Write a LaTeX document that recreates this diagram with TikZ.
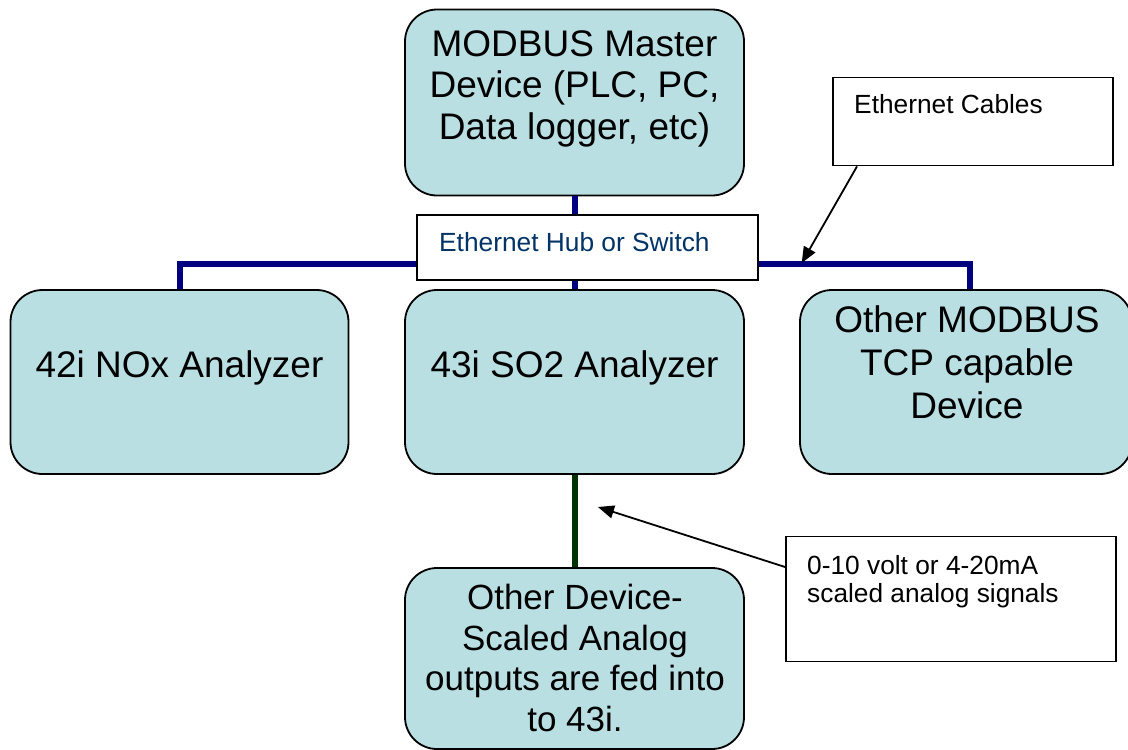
\documentclass[tikz,border=0pt]{standalone}
\usepackage{fontspec}
\setmainfont{Liberation Sans}
\usetikzlibrary{arrows.meta}

\definecolor{boxfill}{RGB}{185,223,227}
\definecolor{busblue}{RGB}{0,0,128}
\definecolor{wiregreen}{RGB}{0,51,0}
\definecolor{hubtext}{RGB}{0,51,102}

\tikzset{
  devbox/.style={shape=rectangle,draw=black,line width=1.8pt,fill=boxfill,rounded corners=32pt,inner sep=0pt},
  notebox/.style={shape=rectangle,draw=black,line width=1.8pt,fill=white,inner sep=0pt},
  bigtext/.style={inner sep=0pt,align=center,font=\fontsize{37}{41.5}\selectfont},
  smalltext/.style={inner sep=0pt,align=left,font=\fontsize{26.3}{28}\selectfont},
  bus/.style={line width=6pt,draw=busblue},
  pointer/.style={-{Triangle[length=16pt,width=13pt]},line width=1.8pt}
}

\begin{document}
\begin{tikzpicture}[x=1pt,y=-1pt]
        \useasboundingbox (0,0) rectangle (1128,750);
        % boxes
        \node[devbox,minimum width=339pt,minimum height=186pt] (master) at (574.5,102.5) {};
        \node[notebox,minimum width=341pt,minimum height=65pt] (hub) at (587.8,247.5) {};
        \node[devbox,minimum width=338pt,minimum height=184pt] (nox) at (179.5,382) {};
        \node[devbox,minimum width=339pt,minimum height=184pt] (sotwo) at (574.5,382) {};
        \node[devbox,minimum width=332pt,minimum height=184pt] (other) at (966,382) {};
        \node[devbox,minimum width=339pt,minimum height=181pt] (analog) at (574.5,658.5) {};
        \node[notebox,minimum width=280pt,minimum height=88pt] (cables) at (973,121.5) {};
        \node[notebox,minimum width=330pt,minimum height=125pt] (signals) at (951,599) {};
        % texts
        \node[bigtext,anchor=north] (mastertext) at (574.5,30) {MODBUS Master\\Device (PLC, PC,\\Data logger, etc)};
        \node[smalltext,anchor=base west,text=hubtext] (hubtext) at (439,251) {Ethernet Hub or Switch};
        \node[bigtext,anchor=base] (noxtext) at (179.5,377) {42i NOx Analyzer};
        \node[bigtext,anchor=base] (sotwotext) at (574.5,377) {43i SO2 Analyzer};
        \node[bigtext,anchor=north,font=\fontsize{37}{43}\selectfont] (othertext) at (967,305) {Other MODBUS\\TCP capable\\Device};
        \node[bigtext,anchor=north,font=\fontsize{35}{40.7}\selectfont] (analogtext) at (575,584) {Other Device-\\Scaled Analog\\outputs are fed into\\to 43i.};
        \node[smalltext,anchor=base west] (cablestext) at (854,113) {Ethernet Cables};
        \node[smalltext,anchor=north west] (signalstext) at (807,555) {0-10 volt or 4-20mA\\scaled analog signals};
        % wiring
        \draw[bus] (master.south) -- (master.south |- hub.north);
        \draw[bus] (sotwo.north) -- (sotwo.north |- hub.south);
        \draw[bus] (nox.north) |- ([yshift=-16pt]hub.west);
        \draw[bus] ([yshift=-16pt]hub.east) -| ([xshift=4pt]other.north);
        \draw[line width=6pt,draw=wiregreen] (sotwo.south) -- (analog.north);
        % callouts
        \coordinate (cabletip) at (801.7,263);
        \coordinate (signaltip) at (598,507);
        \draw[pointer] ([xshift=-116pt]cables.south) -- (cabletip);
        \draw[pointer] ([yshift=32pt]signals.west) -- (signaltip);
    \end{tikzpicture}
\end{document}
